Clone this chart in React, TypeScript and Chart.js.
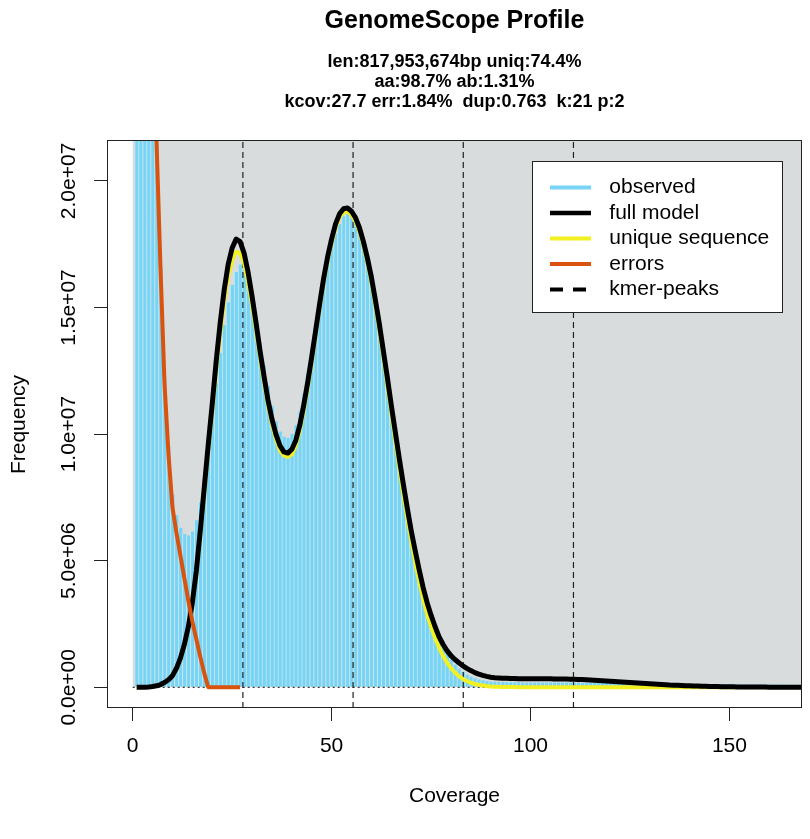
import { useEffect, useRef } from "react";
import { Chart, registerables } from "chart.js";

Chart.register(...registerables);

// ---------- data ----------
const COVERAGE: number[] = Array.from({ length: 170 }, (_, i) => i + 1);

// observed k-mer frequency (millions), coverage 1..170
const OBSERVED_M = [
  200, 120, 75, 46, 30, 22, 16.6, 12.2, 9.5, 7.6,
  6.8, 6.3, 6.05, 6.0, 6.15, 6.6, 7.3, 8.3, 9.5, 10.7,
  12.0, 13.2, 14.3, 15.2, 15.9, 16.4, 16.7, 16.6, 16.2, 15.5,
  14.6, 13.6, 12.7, 11.9, 11.1, 10.5, 10.1, 9.9, 9.85, 10.0,
  10.35, 10.9, 11.6, 12.4, 13.3, 14.2, 15.1, 15.9, 16.7, 17.4,
  17.9, 18.3, 18.6, 18.7, 18.6, 18.35, 17.95, 17.4, 16.75, 16.0,
  15.1, 14.1, 13.1, 12.0, 10.95, 9.9, 8.9, 7.9, 7.0, 6.1,
  5.3, 4.55, 3.9, 3.3, 2.8, 2.35, 1.95, 1.62, 1.34, 1.1,
  0.9, 0.74, 0.61, 0.5, 0.42, 0.36, 0.31, 0.28, 0.25, 0.23,
  0.22, 0.21, 0.21, 0.2, 0.2, 0.2, 0.2, 0.19, 0.19, 0.19,
  0.19, 0.19, 0.19, 0.19, 0.19, 0.19, 0.19, 0.19, 0.19, 0.19,
  0.19, 0.19, 0.18, 0.18, 0.18, 0.18, 0.18, 0.17, 0.17, 0.17,
  0.17, 0.17, 0.16, 0.16, 0.16, 0.16, 0.15, 0.15, 0.15, 0.15,
  0.15, 0.14, 0.14, 0.14, 0.14, 0.14, 0.13, 0.13, 0.13, 0.13,
  0.13, 0.13, 0.12, 0.12, 0.12, 0.12, 0.12, 0.12, 0.12, 0.12,
  0.11, 0.11, 0.11, 0.11, 0.11, 0.11, 0.11, 0.11, 0.11, 0.11,
  0.11, 0.11, 0.11, 0.1, 0.1, 0.1, 0.1, 0.1, 0.1, 0.1,
];

// full model (millions), coverage 1..170
const FULL_MODEL_M = [
  0.0, 0.0, 0.005, 0.015, 0.03, 0.06, 0.11, 0.19, 0.3, 0.46,
  0.75, 1.15, 1.7, 2.4, 3.35, 4.6, 6.2, 7.9, 9.6, 11.2,
  12.9, 14.4, 15.7, 16.7, 17.35, 17.7, 17.6, 17.15, 16.4, 15.45,
  14.4, 13.3, 12.3, 11.35, 10.6, 10.0, 9.55, 9.3, 9.25, 9.4,
  9.75, 10.35, 11.15, 12.05, 13.05, 14.1, 15.15, 16.15, 17.0, 17.7,
  18.3, 18.7, 18.9, 18.93, 18.8, 18.55, 18.15, 17.6, 16.95, 16.2,
  15.3, 14.35, 13.3, 12.25, 11.15, 10.1, 9.05, 8.05, 7.1, 6.2,
  5.4, 4.65, 3.95, 3.35, 2.85, 2.4, 2.0, 1.7, 1.45, 1.25,
  1.1, 0.97, 0.85, 0.75, 0.66, 0.58, 0.52, 0.47, 0.43, 0.4,
  0.38, 0.37, 0.36, 0.355, 0.35, 0.345, 0.34, 0.34, 0.34, 0.34,
  0.34, 0.34, 0.34, 0.34, 0.335, 0.33, 0.33, 0.33, 0.325, 0.32,
  0.315, 0.31, 0.305, 0.3, 0.29, 0.28, 0.27, 0.26, 0.25, 0.24,
  0.23, 0.22, 0.21, 0.2, 0.19, 0.18, 0.17, 0.16, 0.15, 0.14,
  0.13, 0.12, 0.11, 0.1, 0.09, 0.085, 0.078, 0.07, 0.064, 0.058,
  0.052, 0.047, 0.042, 0.038, 0.034, 0.03, 0.027, 0.024, 0.021, 0.019,
  0.017, 0.015, 0.013, 0.012, 0.011, 0.01, 0.009, 0.008, 0.007, 0.006,
  0.005, 0.005, 0.004, 0.004, 0.003, 0.003, 0.003, 0.002, 0.002, 0.002,
];

// unique sequence (millions), coverage 1..170
const UNIQUE_SEQUENCE_M = [
  0.0, 0.0, 0.005, 0.015, 0.03, 0.06, 0.1, 0.18, 0.29, 0.44,
  0.72, 1.1, 1.65, 2.33, 3.27, 4.5, 6.05, 7.7, 9.35, 10.9,
  12.55, 14.0, 15.25, 16.25, 16.85, 17.2, 17.15, 16.75, 16.0, 15.1,
  14.1, 13.05, 12.05, 11.15, 10.4, 9.8, 9.35, 9.15, 9.1, 9.2,
  9.55, 10.15, 10.95, 11.85, 12.85, 13.95, 15.0, 16.0, 16.85, 17.55,
  18.15, 18.55, 18.75, 18.8, 18.65, 18.4, 18.0, 17.45, 16.8, 16.0,
  15.1, 14.1, 13.05, 11.95, 10.85, 9.75, 8.7, 7.65, 6.7, 5.8,
  4.95, 4.2, 3.5, 2.9, 2.4, 1.95, 1.57, 1.25, 0.98, 0.76,
  0.58, 0.44, 0.33, 0.25, 0.18, 0.13, 0.1, 0.07, 0.05, 0.035,
  0.025, 0.02, 0.015, 0.012, 0.01, 0.008, 0.006, 0.005, 0.004, 0.003,
  0, 0, 0, 0, 0, 0, 0, 0, 0, 0,
  0, 0, 0, 0, 0, 0, 0, 0, 0, 0,
  0, 0, 0, 0, 0, 0, 0, 0, 0, 0,
  0, 0, 0, 0, 0, 0, 0, 0, 0, 0,
  0, 0, 0, 0, 0, 0, 0, 0, 0, 0,
  0, 0, 0, 0, 0, 0, 0, 0, 0, 0,
  0, 0, 0, 0, 0, 0, 0, 0, 0, 0,
];

// errors (millions), coverage 1..27
const ERRORS_M = [
  150, 100, 65, 42, 29, 21.5, 16.5, 12.0, 9.2, 7.1,
  6.1, 5.2, 4.3, 3.4, 2.6, 1.9, 1.2, 0.55, 0, 0,
  0, 0, 0, 0, 0, 0, 0,
];

const KMER_PEAKS = [27.7, 55.4, 83.1, 110.8];

const X_TICKS = [0, 50, 100, 150];
const X_TICK_LABELS = ["0", "50", "100", "150"];
const Y_TICKS = [0, 5e6, 1e7, 1.5e7, 2e7];
const Y_TICK_LABELS = ["0.0e+00", "5.0e+06", "1.0e+07", "1.5e+07", "2.0e+07"];

const X_MIN = -6.46;
const X_MAX = 168.25;
const Y_MIN = -0.8175e6;
const Y_MAX = 21.576e6;

const TITLE = "GenomeScope Profile";
const SUBTITLE_LINES = [
  "len:817,953,674bp uniq:74.4%",
  "aa:98.7% ab:1.31%",
  "kcov:27.7 err:1.84%  dup:0.763  k:21 p:2",
];
const X_TITLE = "Coverage";
const Y_TITLE = "Frequency";
const LEGEND_LABELS = ["observed", "full model", "unique sequence", "errors", "kmer-peaks"];

// ---------- styles ----------
const FONT = "'Liberation Sans', Arial, Helvetica, sans-serif";
const C_OBS = "#78D4F4";
const C_GAP = "#C4E6F0";
const C_BG = "#D8DCDC";
const C_MODEL = "#000000";
const C_UNIQUE = "#F2F020";
const C_ERR = "#D9530F";
const C_PEAK = "#222222";

const LEGEND_STYLES = [
  { color: C_OBS, width: 4, dash: [] as number[] },
  { color: C_MODEL, width: 4.5, dash: [] as number[] },
  { color: C_UNIQUE, width: 4, dash: [] as number[] },
  { color: C_ERR, width: 4, dash: [] as number[] },
  { color: "#000000", width: 4, dash: [13, 10] },
];

const toPoints = (vals: number[]) =>
  vals.map((v, i) => ({ x: COVERAGE[i], y: v * 1e6 }));

const bgPlugin = {
  id: "bgRect",
  beforeDatasetsDraw(chart: any) {
    const { ctx, chartArea, scales } = chart;
    const x0 = scales.x.getPixelForValue(0);
    const y0 = scales.y.getPixelForValue(0);
    ctx.save();
    ctx.fillStyle = C_BG;
    ctx.fillRect(x0, chartArea.top, chartArea.right - x0, y0 - chartArea.top);
    ctx.restore();
  },
};

const framePlugin = {
  id: "frameAndText",
  afterDraw(chart: any) {
    const { ctx, chartArea } = chart;
    ctx.save();
    // plot box
    ctx.strokeStyle = "#222";
    ctx.lineWidth = 1;
    ctx.strokeRect(
      Math.round(chartArea.left) + 0.5,
      Math.round(chartArea.top) - 0.5,
      Math.round(chartArea.right - chartArea.left) - 1,
      Math.round(chartArea.bottom - chartArea.top)
    );

    // titles
    const cx = (chartArea.left + chartArea.right) / 2;
    ctx.fillStyle = "#000";
    ctx.textAlign = "center";
    ctx.textBaseline = "alphabetic";
    ctx.font = `bold 25px ${FONT}`;
    ctx.fillText(TITLE, cx, 27.5);
    ctx.font = `bold 18px ${FONT}`;
    SUBTITLE_LINES.forEach((line, i) => ctx.fillText(line, cx, 67.2 + i * 20));

    // legend
    const lx = 532.5, ly = 161.5, lw = 250, lh = 151;
    ctx.fillStyle = "#fff";
    ctx.fillRect(lx, ly, lw, lh);
    ctx.strokeStyle = "#222";
    ctx.lineWidth = 1;
    ctx.strokeRect(lx, ly, lw, lh);
    ctx.font = `21px ${FONT}`;
    ctx.textAlign = "left";
    ctx.textBaseline = "middle";
    LEGEND_LABELS.forEach((label, i) => {
      const st = LEGEND_STYLES[i];
      const y = 187.5 + i * 25.5;
      ctx.beginPath();
      ctx.setLineDash(st.dash);
      ctx.strokeStyle = st.color;
      ctx.lineWidth = st.width;
      ctx.lineCap = "butt";
      ctx.moveTo(550, y);
      ctx.lineTo(591, y);
      ctx.stroke();
      ctx.setLineDash([]);
      ctx.fillStyle = "#000";
      ctx.fillText(label, 609.3, y);
    });
    ctx.restore();
  },
};

export default function App() {
  const ref = useRef<HTMLCanvasElement | null>(null);

  useEffect(() => {
    if (!ref.current) return;
    Chart.defaults.font.family = FONT;
    Chart.defaults.color = "#000";

    const peakSets = KMER_PEAKS.map((p) => ({
      type: "line" as const,
      label: "kmer-peaks",
      data: [
        { x: p, y: Y_MIN },
        { x: p, y: Y_MAX },
      ],
      borderColor: C_PEAK,
      borderWidth: 1.2,
      borderDash: [6, 4],
      pointRadius: 0,
      fill: false,
      order: 4,
      clip: 0,
    }));

    const chart = new Chart(ref.current, {
      type: "bar",
      data: {
        datasets: [
          {
            type: "line",
            label: "errors",
            data: toPoints(ERRORS_M),
            borderColor: C_ERR,
            borderWidth: 4,
            pointRadius: 0,
            tension: 0,
            fill: false,
            order: 1,
            clip: 0,
            borderJoinStyle: "round",
          },
          {
            type: "line",
            label: "full model",
            data: toPoints(FULL_MODEL_M),
            borderColor: C_MODEL,
            borderWidth: 5,
            pointRadius: 0,
            tension: 0,
            fill: false,
            order: 2,
            clip: 0,
            borderJoinStyle: "round",
          },
          {
            type: "line",
            label: "unique sequence",
            data: toPoints(UNIQUE_SEQUENCE_M),
            borderColor: C_UNIQUE,
            borderWidth: 4,
            pointRadius: 0,
            tension: 0,
            fill: false,
            order: 3,
            clip: 0,
            borderJoinStyle: "round",
          },
          ...peakSets,
          {
            type: "line",
            label: "zero",
            data: [
              { x: 0, y: 0 },
              { x: X_MAX, y: 0 },
            ],
            borderColor: "#111",
            borderWidth: 1,
            borderDash: [2, 3],
            pointRadius: 0,
            fill: false,
            order: 5,
            clip: 0,
          },
          {
            type: "bar",
            label: "observed",
            data: toPoints(OBSERVED_M),
            backgroundColor: C_OBS,
            borderColor: C_GAP,
            borderWidth: { left: 1, right: 0, top: 0, bottom: 0 },
            borderSkipped: false,
            barThickness: 4,
            order: 6,
            clip: 0,
          },
        ] as any,
      },
      options: {
        responsive: false,
        animation: false,
        devicePixelRatio: 1,
        events: [],
        layout: { padding: { top: 141, right: 8, bottom: 0, left: 0 } },
        plugins: {
          legend: { display: false },
          tooltip: { enabled: false },
          title: { display: false },
        },
        scales: {
          x: {
            type: "linear",
            min: X_MIN,
            max: X_MAX,
            offset: false,
            grid: {
              display: true,
              drawOnChartArea: false,
              drawTicks: true,
              tickLength: 13,
              color: "#222",
              lineWidth: 1,
              offset: false,
            },
            border: { display: false },
            ticks: {
              font: { size: 21, family: FONT },
              color: "#000",
              padding: 12.4,
              maxRotation: 0,
              autoSkip: false,
              callback: (_v: any, i: number) => X_TICK_LABELS[i],
            },
            title: {
              display: true,
              text: X_TITLE,
              font: { size: 21, family: FONT },
              color: "#000",
              padding: { top: 0, bottom: 30.1 },
            },
            afterBuildTicks: (s: any) => {
              s.ticks = X_TICKS.map((value) => ({ value }));
            },
            afterFit: (s: any) => {
              s.height = 131;
            },
          },
          y: {
            type: "linear",
            min: Y_MIN,
            max: Y_MAX,
            grid: {
              display: true,
              drawOnChartArea: false,
              drawTicks: true,
              tickLength: 13,
              color: "#222",
              lineWidth: 1,
            },
            border: { display: false },
            ticks: {
              font: { size: 21, family: FONT },
              color: "#000",
              minRotation: 90,
              maxRotation: 90,
              crossAlign: "center",
              padding: -13.5,
              autoSkip: false,
              callback: (_v: any, i: number) => Y_TICK_LABELS[i],
            },
            title: {
              display: true,
              text: Y_TITLE,
              font: { size: 21, family: FONT },
              color: "#000",
              padding: { top: 6.3, bottom: 0 },
            },
            afterBuildTicks: (s: any) => {
              s.ticks = Y_TICKS.map((value) => ({ value }));
            },
            afterFit: (s: any) => {
              s.width = 107;
            },
          },
        },
      } as any,
      plugins: [bgPlugin, framePlugin],
    });

    return () => chart.destroy();
  }, []);

  return (
    <div style={{ position: "absolute", left: 0, top: 0, width: 810, height: 839, background: "#fff" }}>
      <canvas ref={ref} width={810} height={839} style={{ display: "block", width: 810, height: 839 }} />
    </div>
  );
}
